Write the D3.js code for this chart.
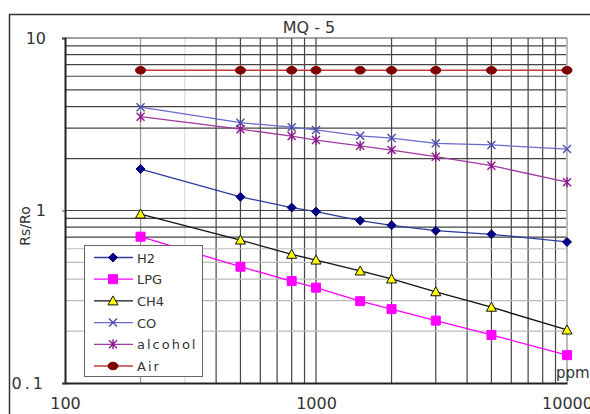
<!DOCTYPE html>
<html>
<head>
<meta charset="utf-8">
<script src="https://cdn.jsdelivr.net/npm/d3@7"></script>
<style>
  body { margin: 0; background: #fff; }
  text { font-family: "DejaVu Sans", sans-serif; fill: #333; }
</style>
</head>
<body>
<div id="chart"></div>
<script>
'use strict';

// concentraciones (ppm)
const ppm = [200, 500, 800, 1000, 1500, 2000, 3000, 5000, 10000];

// Rs/Ro por gas
const h2 = [1.74, 1.20, 1.04, 0.985, 0.873, 0.821, 0.764, 0.728, 0.657];
const lpg = [0.705, 0.472, 0.390, 0.357, 0.298, 0.268, 0.230, 0.190, 0.145];
const ch4 = [0.954, 0.674, 0.557, 0.516, 0.446, 0.401, 0.338, 0.275, 0.203];
const co = [3.97, 3.23, 3.04, 2.93, 2.71, 2.63, 2.45, 2.40, 2.27];
const alcohol = [3.50, 2.96, 2.70, 2.56, 2.37, 2.24, 2.05, 1.82, 1.46];
const air = [6.5, 6.5, 6.5, 6.5, 6.5, 6.5, 6.5, 6.5, 6.5];

const seriesNames = ['H2', 'LPG', 'CH4', 'CO', 'alcohol', 'Air'];
const seriesValues = [h2, lpg, ch4, co, alcohol, air];

const xTicks = [100, 1000, 10000];
const yTicks = [0.1, 1, 10];
const yTickLabels = ['0.1', '1', '10'];

function drawChart(elementID) {
  const width = 590;
  const height = 414;
  const left = 65, right = 567, top = 38, bottom = 383;

  const scaleX = d3.scaleLog().domain([100, 10000]).range([left, right]);
  const scaleY = d3.scaleLog().domain([0.1, 10]).range([bottom, top]);

  const svg = d3.select('#' + elementID).append('svg')
    .attr('width', width)
    .attr('height', height);

  // marco exterior
  svg.append('path')
    .attr('d', `M9.5,${height}V14.5H${width}`)
    .attr('fill', 'none')
    .attr('stroke', '#333')
    .attr('stroke-width', 1.5);

  // rejilla vertical
  const xGrid = [];
  [100, 1000].forEach(d => { for (let i = 2; i <= 9; i++) xGrid.push(d * i); });
  xGrid.push(1000);
  svg.append('g').selectAll('line')
    .data(xGrid)
    .enter()
    .append('line')
    .attr('x1', d => scaleX(d))
    .attr('x2', d => scaleX(d))
    .attr('y1', top)
    .attr('y2', bottom)
    .attr('stroke', d => d === 200 ? '#999' : (d === 300 ? '#ddd' : '#444'))
    .attr('stroke-width', 1.2);

  // rejilla horizontal
  const yGrid = [];
  [0.1, 1].forEach(d => { for (let i = 2; i <= 9; i++) yGrid.push(+(d * i).toFixed(2)); });
  yGrid.push(1);
  svg.append('g').selectAll('line')
    .data(yGrid)
    .enter()
    .append('line')
    .attr('x1', left)
    .attr('x2', right)
    .attr('y1', d => scaleY(d))
    .attr('y2', d => scaleY(d))
    .attr('stroke', d => d < 0.65 ? '#bbb' : '#444')
    .attr('stroke-width', 1.2);

  // bordes del area
  svg.append('line')
    .attr('x1', right).attr('x2', right).attr('y1', top).attr('y2', bottom)
    .attr('stroke', '#bbb').attr('stroke-width', 2);
  svg.append('line')
    .attr('x1', left).attr('x2', right).attr('y1', top).attr('y2', top)
    .attr('stroke', '#444').attr('stroke-width', 1.2);

  // ejes
  const xAxis = d3.axisBottom(scaleX)
    .tickValues(xTicks)
    .tickFormat(d3.format('d'))
    .tickSize(0)
    .tickPadding(15);
  const gx = svg.append('g')
    .attr('class', 'axisX')
    .attr('transform', `translate(0, ${bottom})`)
    .call(xAxis);
  gx.select('.domain').attr('stroke', '#222').attr('stroke-width', 2);
  gx.selectAll('text').attr('font-size', 16).attr('fill', '#333');

  const yAxis = d3.axisLeft(scaleY)
    .tickValues(yTicks)
    .tickFormat((d, i) => yTickLabels[i])
    .tickSize(3)
    .tickPadding(16);
  const gy = svg.append('g')
    .attr('class', 'axisY')
    .attr('transform', `translate(${left}, 0)`)
    .call(yAxis);
  gy.select('.domain').attr('stroke', '#222').attr('stroke-width', 2);
  gy.selectAll('line').attr('stroke', '#444');
  gy.selectAll('text')
    .attr('font-size', 16)
    .attr('fill', '#333')
    .attr('letter-spacing', d => d === 0.1 ? 3 : 0);
  gx.selectAll('text').attr('font-family', '"DejaVu Sans", sans-serif');
  gy.selectAll('text').attr('font-family', '"DejaVu Sans", sans-serif');

  // titulo y etiquetas
  svg.append('text')
    .attr('x', 309).attr('y', 33)
    .attr('text-anchor', 'middle')
    .attr('font-size', 16)
    .text('MQ - 5');

  svg.append('text')
    .attr('transform', 'translate(30, 226) rotate(-90)')
    .attr('text-anchor', 'middle')
    .attr('font-size', 14)
    .text('Rs/Ro');

  svg.append('text')
    .attr('x', 556).attr('y', 378)
    .attr('font-size', 15)
    .text('ppm');

  // estilos por serie
  const styles = [
    { line: '#2b3a9c', fill: '#000080', stroke: '#000080', shape: 'diamond' },
    { line: '#ff00ff', fill: '#ff00ff', stroke: '#ff00ff', shape: 'square' },
    { line: '#111', fill: '#ffff00', stroke: '#111', shape: 'triangle' },
    { line: '#6a6acc', fill: 'none', stroke: '#4a4ab0', shape: 'x' },
    { line: '#a03aa0', fill: 'none', stroke: '#8a1a8a', shape: 'star' },
    { line: '#c23b3b', fill: '#800000', stroke: '#800000', shape: 'circle' },
  ];

  function markerPath(shape) {
    switch (shape) {
      case 'diamond': return 'M0,-4.5L4.5,0L0,4.5L-4.5,0Z';
      case 'square': return 'M-4.5,-4.5H4.5V4.5H-4.5Z';
      case 'triangle': return 'M0,-5L5,4H-5Z';
      case 'x': return 'M-4,-4L4,4M-4,4L4,-4';
      case 'star': return 'M-4,-4L4,4M-4,4L4,-4M0,-5V5';
      case 'circle': return 'M-5,0A5,3.8 0 1,0 5,0A5,3.8 0 1,0 -5,0Z';
    }
  }

  const line = d3.line()
    .x(d => scaleX(d[0]))
    .y(d => scaleY(d[1]));

  seriesValues.forEach((values, i) => {
    const st = styles[i];
    const pts = ppm.map((p, j) => [p, values[j]]);
    svg.append('path')
      .datum(pts)
      .attr('d', line)
      .attr('fill', 'none')
      .attr('stroke', st.line)
      .attr('stroke-width', 1.3);
    svg.append('g').selectAll('path')
      .data(pts)
      .enter()
      .append('path')
      .attr('transform', d => `translate(${scaleX(d[0])}, ${scaleY(d[1])})`)
      .attr('d', markerPath(st.shape))
      .attr('fill', st.fill)
      .attr('stroke', st.stroke)
      .attr('stroke-width', st.shape === 'x' || st.shape === 'star' ? 1.4 : 1);
  });

  // leyenda
  const legend = svg.append('g').attr('transform', 'translate(84, 245)');
  legend.append('rect')
    .attr('x', 0.5).attr('y', 0.5)
    .attr('width', 118).attr('height', 131)
    .attr('fill', '#fff')
    .attr('stroke', '#666');

  const item = legend.selectAll('.item')
    .data(seriesNames)
    .enter()
    .append('g')
    .attr('class', 'item')
    .attr('transform', (d, i) => `translate(0, ${12.5 + i * 21.7})`);

  item.append('line')
    .attr('x1', 10).attr('x2', 49)
    .attr('stroke', (d, i) => styles[i].line)
    .attr('stroke-width', 1.3);
  item.append('path')
    .attr('transform', 'translate(29, 0)')
    .attr('d', (d, i) => markerPath(styles[i].shape))
    .attr('fill', (d, i) => styles[i].fill)
    .attr('stroke', (d, i) => styles[i].stroke)
    .attr('stroke-width', (d, i) => styles[i].shape === 'x' || styles[i].shape === 'star' ? 1.4 : 1);
  item.append('text')
    .attr('x', 53)
    .attr('y', 5)
    .attr('font-size', 13)
    .attr('letter-spacing', d => (d === 'alcohol' || d === 'Air') ? 2 : 0)
    .text(d => d);
}

drawChart('chart');
</script>
</body>
</html>
